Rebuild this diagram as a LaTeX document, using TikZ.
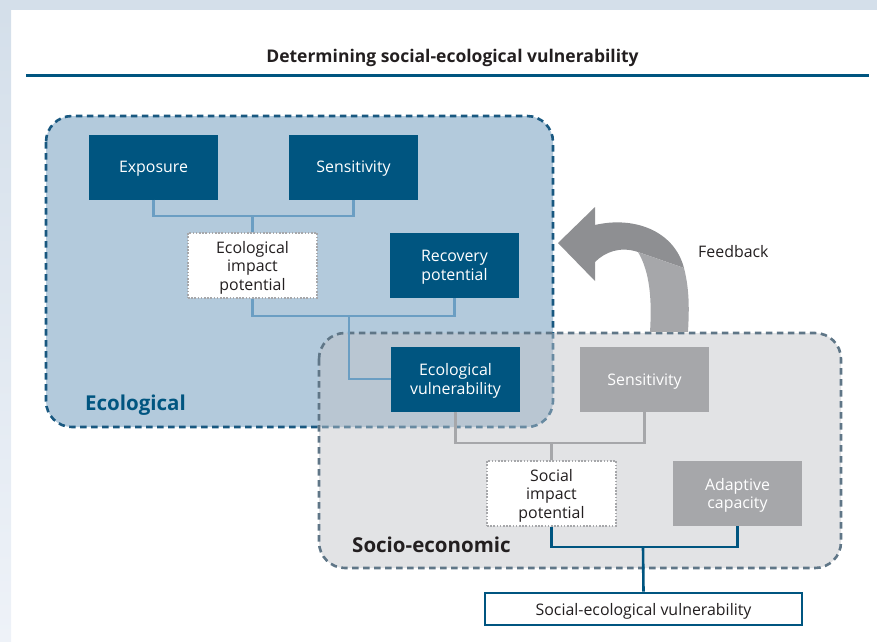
\documentclass[tikz,border=0pt]{standalone}
\usepackage{fontspec}
\setmainfont{Open Sans}
\usepackage{tikz}
\usetikzlibrary{positioning}
\definecolor{deepsea}{RGB}{0,85,128}
\definecolor{seafill}{RGB}{179,202,220}
\definecolor{seaedge}{RGB}{25,88,128}
\definecolor{sealine}{RGB}{107,158,195}
\definecolor{fog}{RGB}{193,195,200}
\definecolor{fogedge}{RGB}{95,118,135}
\definecolor{stone}{RGB}{166,167,170}
\definecolor{stonedark}{RGB}{142,143,146}
\definecolor{ink}{RGB}{35,31,32}
\definecolor{frametop}{RGB}{212,223,234}
\definecolor{framelow}{RGB}{238,242,248}
\tikzset{
  box/.style={fill=#1,text=white,minimum width=129pt,minimum height=65pt,inner sep=0pt,
    text depth=0pt,align=center,font=\fontsize{15.9}{18.5}\selectfont},
  box/.default=deepsea,
  impact/.style={fill=white,draw=stone,line width=1.5pt,dash pattern=on 1.6pt off 1.6pt,
    text=ink,minimum width=129pt,minimum height=65pt,inner sep=0pt,
    text depth=0pt,align=center,font=\fontsize{15.9}{18.5}\selectfont},
  link/.style={line width=2.6pt,draw=#1},
  link/.default=sealine,
  zone/.style={rounded corners=26pt,line width=2.6pt,dash pattern=on 6.5pt off 4.5pt},
  zonename/.style={anchor=base west,inner sep=0pt,font=\fontsize{20.5}{24}\selectfont\bfseries},
}

\begin{document}
\begin{tikzpicture}[x=1pt,y=-1pt]
  \useasboundingbox (0,0) rectangle (877,641);
  % frame
  \fill[frametop] (0,0) rectangle (877,10);
  \shade[top color=frametop,bottom color=framelow] (0,10) rectangle (11,641);

  % title
  \node[anchor=base,inner sep=0pt,text=ink,font=\fontsize{17.5}{20}\selectfont\bfseries] (title) at (452.5,62)
    {Determining social-ecological vulnerability};
  \draw[deepsea,line width=3pt] (26,75.5) -- (869,75.5);

  % zones
  \draw[zone,draw=seaedge,fill=seafill] (46,116) rectangle (553,427);
  \fill[fog,fill opacity=0.47,rounded corners=26pt] (319,333) rectangle (841,568);
  \draw[zone,draw=fogedge] (319,333) rectangle (841,568);
  \node[zonename,text=deepsea] (econame) at (85,410) {Ecological};
  \node[zonename,text=ink] (socname) at (352,552) {Socio-economic};

  % feedback arrow
  \fill[stonedark] (558,243) -- (595,207) -- (595,225) .. controls (633,216) and (674,230) .. (684,268)
    -- (638,252) .. controls (620,246) and (605,252) .. (595,262) -- (595,281) -- cycle;
  \fill[stone] (684,268) .. controls (690,292) and (689,312) .. (688,332) -- (650,332)
    .. controls (652,300) and (650,272) .. (638,252) -- cycle;
  \node[anchor=base west,inner sep=0pt,text=ink,font=\fontsize{15.9}{18.5}\selectfont] (fb) at (698,257) {Feedback};

  % ecological
  \node[box] (expo) at (153.5,167) {Exposure};
  \node[box] (esens) at (353.5,167) {Sensitivity};
  \node[impact] (eimp) at (252.5,265.5) {Ecological\\impact\\potential};
  \node[box] (recov) at (454.5,265.5) {Recovery\\potential};
  \node[box] (evul) at (455.5,379) {Ecological\\vulnerability};

  % socio-economic
  \node[box=stone] (ssens) at (644.5,379.5) {Sensitivity};
  \node[impact] (simp) at (551.5,493.5) {Social\\impact\\potential};
  \node[box=stone] (adapt) at (737.5,493.5) {Adaptive\\capacity};
  \node[draw=deepsea,line width=2.6pt,fill=white,text=ink,minimum width=317pt,minimum height=32pt,
    inner sep=0pt,text depth=0pt,font=\fontsize{15.9}{18.5}\selectfont] (sev) at (643.5,609) {Social-ecological vulnerability};

  % links
  \coordinate (j1) at (252.5,216);
  \coordinate (j2) at (349,316);
  \coordinate (j3) at (551.5,443);
  \coordinate (j4) at (643,547);
  \draw[link] (expo.south) |- (j1) -| (esens.south);
  \draw[link] (j1) -- (eimp.north);
  \draw[link] (eimp.south) |- (j2) -| (recov.south);
  \draw[link] (j2) |- (evul.west);
  \draw[link=stone] (evul.south) |- (j3) -| (ssens.south);
  \draw[link=stone] (j3) -- (simp.north);
  \draw[link=deepsea] (simp.south) |- (j4) -| (adapt.south);
  \draw[link=deepsea] (j4) -- (sev.north);
\end{tikzpicture}
\end{document}
